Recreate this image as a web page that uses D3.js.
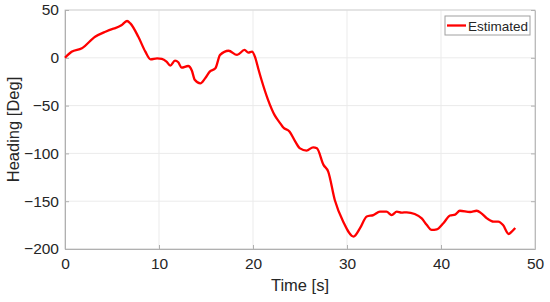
<!DOCTYPE html>
<html>
<head>
<meta charset="utf-8">
<script src="https://cdn.jsdelivr.net/npm/d3@7"></script>
<style>
  body { margin: 0; background: #fff; }
  text { font-family: "Liberation Sans", Arial, sans-serif; fill: #262626; }
</style>
</head>
<body>
<script>
// values
var time = [0, 0.7, 1.8, 3.2, 4.3, 5.0, 5.35, 6.0, 6.6, 6.95, 7.8, 8.55, 9.1, 9.8, 10.3,
            10.8, 11.2, 11.7, 12.05, 12.4, 13.1, 13.5, 13.8, 14.4, 14.9, 15.4, 16.0, 16.5,
            17.4, 18.3, 19.1, 19.5, 19.9, 20.2, 20.6, 20.9, 21.6, 22.3, 22.9, 23.2, 23.9,
            24.5, 25.0, 25.7, 26.4, 26.8, 27.5, 28.0, 28.7, 29.6, 30.7, 31.4, 32.1, 32.8,
            33.5, 34.2, 34.75, 35.3, 35.8, 36.35, 37.2, 37.95, 38.5, 39.0, 39.55, 40.25,
            40.96, 41.5, 42.0, 43.1, 43.8, 44.3, 44.9, 45.6, 46.1, 46.6, 47.2, 47.5, 47.9];
var heading = [0, 6.4, 10, 22, 27.3, 30, 31, 34, 38.5, 36, 22, 6.4, -1.6, -0.5, -1,
               -4, -8.2, -3, -4.7, -10.3, -8.6, -13.5, -23, -26.7, -21.5, -14.5, -11, 3,
               7.4, 3, 8.2, 5.4, 6.4, 1.2, -12.8, -23, -44, -60, -68.5, -72.7, -77.3,
               -87.7, -94.7, -97, -93.6, -94.7, -112, -119, -148.7, -171.4, -187, -178, -166, -164.5,
               -161, -161, -164.5, -161, -162, -161.6, -163.4, -168, -175, -180, -179.4, -173,
               -165, -164, -160, -161.3, -160, -162.7, -168, -171.4, -171.4, -175, -184.3, -182, -178];
var xTicks = [0, 10, 20, 30, 40, 50];
var yTicks = [50, 0, -50, -100, -150, -200];
var seriesName = "Estimated";

var width = 550, height = 302;
var margin = {left: 65, right: 15, top: 10, bottom: 53};
var svg = d3.select("body").append("svg")
            .attr("width", width)
            .attr("height", height);

var xScale = d3.scaleLinear().domain([0, 50]).range([margin.left, width - margin.right]);
var yScale = d3.scaleLinear().domain([-200, 50]).range([height - margin.bottom, margin.top]);

// grid
svg.append("g").selectAll("line.gx")
   .data(xTicks).enter().append("line")
   .attr("x1", d => xScale(d)).attr("x2", d => xScale(d))
   .attr("y1", yScale(-200)).attr("y2", yScale(50))
   .attr("stroke", "#ebebeb").attr("stroke-width", 1);
svg.append("g").selectAll("line.gy")
   .data(yTicks).enter().append("line")
   .attr("x1", xScale(0)).attr("x2", xScale(50))
   .attr("y1", d => yScale(d)).attr("y2", d => yScale(d))
   .attr("stroke", "#ebebeb").attr("stroke-width", 1);

// box
svg.append("rect")
   .attr("x", xScale(0)).attr("y", yScale(50))
   .attr("width", xScale(50) - xScale(0)).attr("height", yScale(-200) - yScale(50))
   .attr("fill", "none").attr("stroke", "#d4d4d4");

// axes (ticks inward)
var xAxis = svg.append("g")
   .attr("transform", "translate(0," + yScale(-200) + ")")
   .call(d3.axisBottom(xScale).tickValues(xTicks).tickSizeInner(-4).tickSizeOuter(0).tickPadding(9));
var yAxis = svg.append("g")
   .attr("transform", "translate(" + xScale(0) + ",0)")
   .call(d3.axisLeft(yScale).tickValues(yTicks).tickSizeInner(-4).tickSizeOuter(0).tickPadding(6)
         .tickFormat(d => d < 0 ? "\u2212" + Math.abs(d) : d));
svg.append("g")
   .attr("transform", "translate(" + xScale(50) + ",0)")
   .call(d3.axisRight(yScale).tickValues(yTicks).tickSizeInner(-4).tickSizeOuter(0).tickFormat(""))
   .select(".domain").attr("stroke", "#bbb");
[xAxis, yAxis].forEach(function(a) {
    a.select(".domain").attr("stroke", "#b0b0b0");
    a.selectAll(".tick text").attr("font-size", 15.5).attr("fill", "#262626")
     .attr("font-family", "'Liberation Sans', Arial, sans-serif");
});
svg.selectAll(".tick line").attr("stroke", "#b0b0b0");

// line
var pts = time.map((t, i) => [t, heading[i]]);
svg.append("path")
   .datum(pts)
   .attr("fill", "none")
   .attr("stroke", "#ff0000")
   .attr("stroke-width", 2.3)
   .attr("stroke-linejoin", "round")
   .attr("d", d3.line().x(d => xScale(d[0])).y(d => yScale(d[1])).curve(d3.curveMonotoneX));

// axis labels
svg.append("text")
   .attr("x", (xScale(0) + xScale(50)) / 2).attr("y", 291)
   .attr("text-anchor", "middle").attr("font-size", 16.5)
   .text("Time [s]");
svg.append("text")
   .attr("transform", "translate(19," + ((yScale(50) + yScale(-200)) / 2) + ") rotate(-90)")
   .attr("text-anchor", "middle").attr("font-size", 16.5)
   .text("Heading [Deg]");

// legend
var lg = svg.append("g");
lg.append("rect").attr("x", 445).attr("y", 16).attr("width", 85).attr("height", 19)
  .attr("fill", "#fff").attr("stroke", "#a0a0a0");
lg.append("line").attr("x1", 447).attr("x2", 466).attr("y1", 25.5).attr("y2", 25.5)
  .attr("stroke", "#ff0000").attr("stroke-width", 2.3);
lg.append("text").attr("x", 468).attr("y", 30.5).attr("font-size", 13.5).text(seriesName);
</script>
</body>
</html>
